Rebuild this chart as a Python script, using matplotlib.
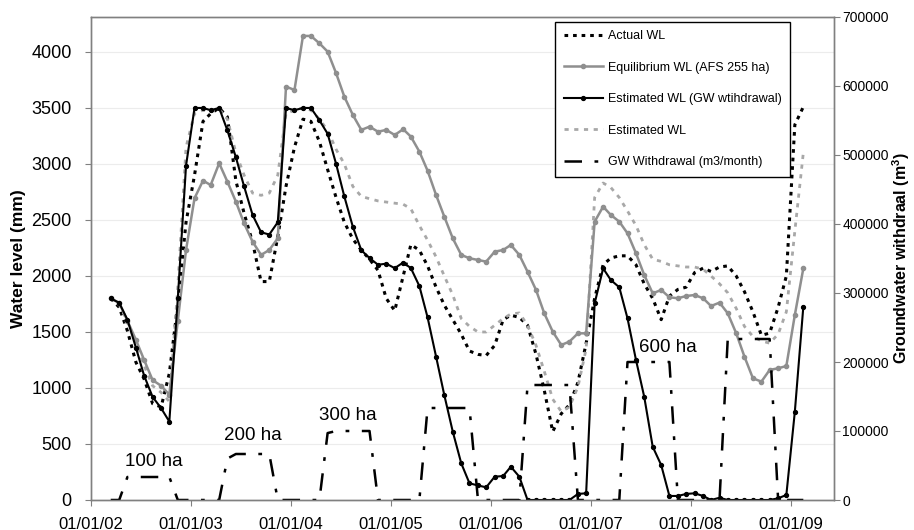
import matplotlib
matplotlib.use("Agg")
import matplotlib.pyplot as plt
import matplotlib.dates as mdates
import pandas as pd

plt.rcParams['font.family'] = ['Liberation Sans', 'DejaVu Sans']

# ---------------- data ----------------
dates = pd.date_range("2002-03-01", periods=84, freq="MS") + pd.Timedelta(days=13)

actual_wl = [1800, 1720, 1510, 1230, 1080, 860, 830, 1130, 1750, 2480,
             2900, 3380, 3450, 3500, 3420, 2850, 2560, 2300, 1950, 1950,
             2350, 2800, 3150, 3400, 3380, 3200, 2950, 2700, 2480, 2330,
             2230, 2150, 2050, 1800, 1690, 2000, 2280, 2230, 2090, 1900,
             1740, 1610, 1480, 1330, 1300, 1290, 1380, 1610, 1650, 1630,
             1560, 1300, 980, 610, 770, 850, 1050, 1400, 1800, 2100,
             2160, 2180, 2180, 2100, 1930, 1800, 1610, 1820, 1880, 1900,
             2030, 2070, 2040, 2080, 2090, 2000, 1860, 1680, 1470, 1490,
             1720, 2000, 3350, 3510]

equilibrium_wl = [1800, 1760, 1600, 1430, 1250, 1070, 1020, 940, 1600, 2232,
                  2694, 2851, 2812, 3006, 2842, 2664, 2470, 2306, 2188, 2232,
                  2336, 3690, 3661, 4143, 4143, 4077, 4003, 3810, 3601, 3438,
                  3304, 3333, 3288, 3304, 3259, 3310, 3244, 3110, 2940, 2723,
                  2530, 2336, 2188, 2158, 2143, 2128, 2217, 2232, 2277, 2188,
                  2038, 1875, 1667, 1503, 1384, 1414, 1488, 1488, 2485, 2619,
                  2545, 2485, 2381, 2202, 2009, 1845, 1875, 1810, 1801, 1821,
                  1830, 1801, 1732, 1762, 1667, 1488, 1280, 1086, 1057, 1161,
                  1176, 1196, 1652, 2068]

estimated_wl_gw = [1800, 1760, 1610, 1360, 1110, 920, 820, 700, 1800, 2985,
                   3500, 3500, 3480, 3500, 3300, 3060, 2800, 2545, 2390, 2370,
                   2480, 3500, 3480, 3500, 3500, 3390, 3270, 3000, 2710, 2440,
                   2230, 2160, 2100, 2110, 2070, 2120, 2070, 1910, 1630, 1280,
                   937, 610, 327, 149, 130, 113, 208, 214, 297, 208,
                   0, 0, 0, 0, 0, 0, 54, 60, 1756, 2068,
                   1964, 1899, 1622, 1250, 922, 476, 312, 36, 36, 54,
                   60, 36, 0, 20, 0, 0, 0, 0, 0, 0,
                   15, 45, 788, 1726]

estimated_wl = [1800, 1750, 1590, 1400, 1200, 1020, 960, 880, 1900, 3150,
                3450, 3480, 3470, 3490, 3400, 3100, 2900, 2740, 2720, 2740,
                2900, 3450, 3480, 3500, 3480, 3400, 3300, 3130, 3000, 2800,
                2710, 2690, 2670, 2660, 2650, 2640, 2600, 2450, 2320, 2170,
                2000, 1830, 1620, 1550, 1500, 1500, 1560, 1620, 1660, 1670,
                1560, 1380, 1150, 900, 790, 830, 1010, 1350, 2700, 2830,
                2790, 2700, 2580, 2450, 2280, 2150, 2130, 2100, 2090, 2080,
                2080, 2060, 2000, 1930, 1850, 1710, 1550, 1460, 1420, 1400,
                1480, 1680, 2400, 3100]

gw_withdrawal = [0, 0, 33333, 33333, 33333, 33333, 33333, 33333, 0, 0,
                 0, 0, 0, 0, 60000, 66667, 66667, 66667, 66667, 66667,
                 0, 0, 0, 0, 0, 0, 97000, 100000, 100000, 100000,
                 100000, 100000, 0, 0, 0, 0, 0, 0, 133333, 133333,
                 133333, 133333, 133333, 133333, 0, 0, 0, 0, 0, 0,
                 166667, 166667, 166667, 166667, 166667, 166667, 0, 0, 0, 0,
                 0, 0, 200000, 200000, 200000, 200000, 200000, 200000, 0, 0,
                 0, 0, 0, 0, 233333, 233333, 233333, 233333, 233333, 233333,
                 0, 0, 0, 0]

left_ticks = [0, 500, 1000, 1500, 2000, 2500, 3000, 3500, 4000]
right_ticks = [0, 100000, 200000, 300000, 400000, 500000, 600000, 700000]
year_ticks = pd.date_range("2002-01-01", "2009-01-01", freq="YS")

annotations = [("100 ha", 0.085, 0.079), ("200 ha", 0.218, 0.133),
               ("300 ha", 0.345, 0.174), ("600 ha", 0.777, 0.315)]

# ---------------- figure ----------------
fig = plt.figure(figsize=(9.14, 5.30), dpi=100)
ax = fig.add_axes([91/914, 30/530, (834-91)/914, (500-17)/530])
ax2 = ax.twinx()

spine_col = '#808080'
ax.set_ylim(0, 4312)
ax2.set_ylim(0, 700000)
ax.set_xlim(pd.Timestamp("2002-01-01"), pd.Timestamp("2009-06-06"))

ax.yaxis.grid(True, color='#ececec', linewidth=0.8)
ax.set_axisbelow(True)

l1, = ax.plot(dates, actual_wl, color='black', lw=2.2,
              linestyle=(0, (1.2, 1.6)), label='Actual WL', zorder=3)
l2, = ax.plot(dates, equilibrium_wl, color='#8f8f8f', lw=1.8, marker='o',
              markersize=3, label='Equilibrium WL (AFS 255 ha)', zorder=4)
l3, = ax.plot(dates, estimated_wl_gw, color='black', lw=1.5, marker='o',
              markersize=2.8, label='Estimated WL (GW wtihdrawal)', zorder=5)
l4, = ax.plot(dates, estimated_wl, color='#a8a8a8', lw=2.0,
              linestyle=(0, (1.5, 2.0)), label='Estimated WL', zorder=3)
l5, = ax2.plot(dates, gw_withdrawal, color='black', lw=1.8,
               linestyle=(0, (7, 5, 1.5, 5)), label='GW Withdrawal (m3/month)')

ax.set_yticks(left_ticks)
ax2.set_yticks(right_ticks)
ax.set_xticks(year_ticks)
ax.xaxis.set_major_formatter(mdates.DateFormatter('%d/%m/%y'))

ax.tick_params(axis='y', labelsize=13, length=4, color=spine_col, pad=10)
ax.tick_params(axis='x', labelsize=12, length=4, color=spine_col, pad=8)
ax2.tick_params(axis='y', labelsize=10, length=4, color=spine_col, pad=2)

for a in (ax, ax2):
    for s in a.spines.values():
        s.set_color(spine_col)
        s.set_linewidth(1.0)

ax.set_ylabel('Water level (mm)', fontsize=12.5, fontweight='bold', labelpad=4)
ax2.set_ylabel(r'Groundwater withdraal (m$\mathregular{^3}$)', fontsize=11.5,
               fontweight='bold', labelpad=1)

for txt, xf, yf in annotations:
    ax.text(xf, yf, txt, transform=ax.transAxes, ha='center', va='center',
            fontsize=13.5, zorder=6)

leg = ax2.legend(handles=[l1, l2, l3, l4, l5], loc='upper right',
                 bbox_to_anchor=(790/914, (530-21.7)/530),
                 bbox_transform=fig.transFigure, borderaxespad=0,
                 fontsize=9, frameon=True, fancybox=False, framealpha=1,
                 edgecolor='black', handlelength=3.1, handletextpad=0.4,
                 labelspacing=1.55, borderpad=0.7)
leg.get_frame().set_linewidth(1.0)

fig.savefig('out.png', dpi=100)
